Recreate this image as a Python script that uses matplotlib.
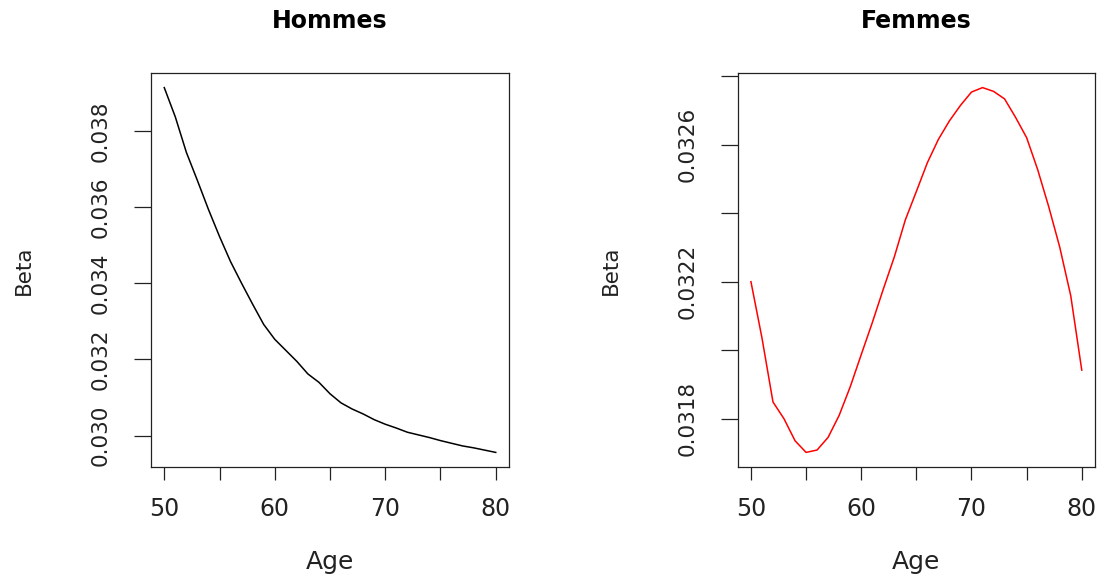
import matplotlib
matplotlib.use("Agg")
import matplotlib.pyplot as plt
import numpy as np

ages = list(range(50, 81))
beta_hommes = [0.03914, 0.03837, 0.03744, 0.03670, 0.03594, 0.03523, 0.03457, 0.03400,
               0.03345, 0.03292, 0.03253, 0.03224, 0.03195, 0.03162, 0.03140, 0.03110,
               0.03086, 0.03070, 0.03057, 0.03042, 0.03030, 0.03020, 0.03009, 0.03002,
               0.02995, 0.02987, 0.02980, 0.02973, 0.02968, 0.02962, 0.02956]
beta_femmes = [0.032200, 0.032036, 0.031849, 0.031800, 0.031736, 0.031702, 0.031709,
               0.031746, 0.031810, 0.031893, 0.031987, 0.032080, 0.032178, 0.032272,
               0.032380, 0.032463, 0.032547, 0.032615, 0.032669, 0.032714, 0.032753,
               0.032766, 0.032755, 0.032733, 0.032679, 0.032620, 0.032527, 0.032419,
               0.032301, 0.032159, 0.031942]

x_ticks = [50, 55, 60, 65, 70, 75, 80]
x_tick_labels = ["50", "", "60", "", "70", "", "80"]
yh_ticks = [0.030, 0.032, 0.034, 0.036, 0.038]
yh_tick_labels = ["0.030", "0.032", "0.034", "0.036", "0.038"]
yf_ticks = [0.0318, 0.0320, 0.0322, 0.0324, 0.0326, 0.0328]
yf_tick_labels = ["0.0318", "", "0.0322", "", "0.0326", ""]
titles = ["Hommes", "Femmes"]

plt.rcParams['font.family'] = ['DejaVu Sans']

W, H = 1102, 579
fig = plt.figure(figsize=(W / 100, H / 100), dpi=100)

def px_axes(x0, x1, y0, y1):
    return fig.add_axes([x0 / W, 1 - y1 / H, (x1 - x0) / W, (y1 - y0) / H])

ax1 = px_axes(151, 509, 73, 467)
ax2 = px_axes(737.7, 1095, 73, 467)

def r_lim(vals):
    lo, hi = min(vals), max(vals)
    r = hi - lo
    return lo - 0.04 * r, hi + 0.04 * r

panels = [
    (ax1, beta_hommes, "black", yh_ticks, yh_tick_labels, titles[0], -0.356),
    (ax2, beta_femmes, "red", yf_ticks, yf_tick_labels, titles[1], -0.3546),
]

for ax, vals, col, yt, ytl, title, ylab_x in panels:
    ax.plot(ages, vals, color=col, lw=1.1)
    ax.set_xlim(*r_lim(ages))
    ax.set_ylim(*r_lim(vals))
    ax.set_xticks(x_ticks)
    ax.set_xticklabels(x_tick_labels)
    ax.set_yticks(yt)
    ax.set_yticklabels(ytl, rotation=90, va="center")
    ax.tick_params(axis="x", direction="out", length=9.4, width=0.9, pad=12,
                   labelsize=17, colors="#222222", labelcolor="#222222")
    ax.tick_params(axis="y", direction="out", length=12.2, width=0.9, pad=17,
                   labelsize=15.5, colors="#222222", labelcolor="#222222")
    for s in ax.spines.values():
        s.set_linewidth(0.9)
        s.set_color("#222222")
    ax.set_xlabel("Age", fontsize=18, va="baseline", color="#222222")
    ax.xaxis.set_label_coords(0.5, -0.259)
    ax.set_ylabel("Beta", fontsize=15.5, va="center", color="#222222")
    ax.yaxis.set_label_coords(ylab_x, 0.5)
    ax.set_title(title, fontsize=17, fontweight="bold", y=1 + (73 - 27.5) / 394,
                 pad=0, va="baseline")

fig.savefig("out.png", dpi=100)
